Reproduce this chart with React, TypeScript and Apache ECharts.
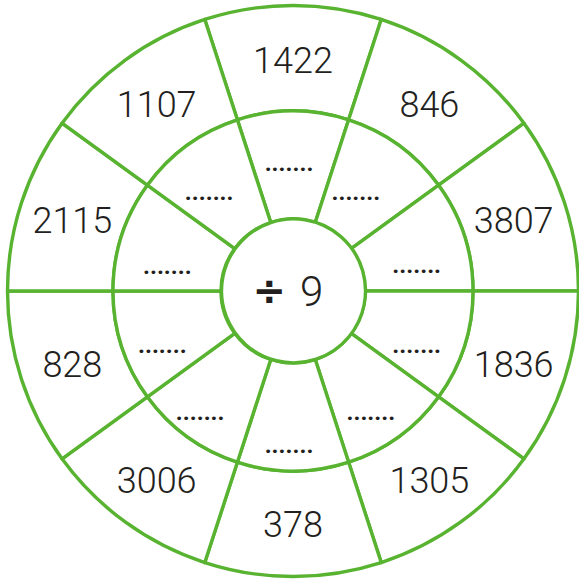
import React, { useEffect, useRef } from "react";
import * as echarts from "echarts";

// Outer ring numbers, clockwise starting from the top segment
const outerNumbers = ["1422", "846", "3807", "1836", "1305", "378", "3006", "828", "2115", "1107"];
// Middle ring placeholders (answers to fill in)
const answerBlanks = [".......", ".......", ".......", ".......", ".......", ".......", ".......", ".......", ".......", "......."];
// Center operation
const operationSymbol = "÷";
const divisor = 9;

// style: hand-placed nudges of the blank labels, as in the worksheet
const blankNudges: [number, number][] = [
  [-4, 1], [-13, 5], [1, 14], [1, 14], [2, 17], [-4, 25], [-17, 17], [-8, 14], [-3, 15], [-8, 5],
];

const GREEN = "#58b330";
const INK = "#231f20";

export default function App() {
  const ref = useRef<HTMLDivElement>(null);

  useEffect(() => {
    document.body.style.margin = "0";
    if (!ref.current) return;
    const chart = echarts.init(ref.current, null, { renderer: "svg" });
    const center: [number, number] = [293, 291];
    const common = {
      type: "pie" as const,
      center,
      startAngle: 108,
      clockwise: true,
      silent: true,
      avoidLabelOverlap: false,
      labelLine: { show: false },
      emphasis: { disabled: true },
    };
    const frame = { color: "#ffffff", borderColor: GREEN, borderWidth: 3.4 };
    const ghost = { color: "rgba(0,0,0,0)", borderWidth: 0 };
    chart.setOption({
      animation: false,
      backgroundColor: "#ffffff",
      series: [
        {
          ...common,
          name: "outerFrame",
          radius: [180, 285.5],
          itemStyle: frame,
          label: { show: false },
          data: outerNumbers.map((n) => ({ name: n, value: 1 })),
        },
        {
          ...common,
          name: "middleFrame",
          radius: [72, 180],
          itemStyle: frame,
          label: { show: false },
          data: answerBlanks.map((b, i) => ({ name: "blank" + i, value: 1 })),
        },
        {
          ...common,
          name: "center",
          radius: [0, 72],
          itemStyle: frame,
          data: [{ name: operationSymbol + " " + divisor, value: 1 }],
          label: {
            show: true,
            position: "center",
            offset: [-5, 0],
            formatter: "{op|" + operationSymbol + "}{num|" + divisor + "}",
            rich: {
              op: { color: INK, fontFamily: "DejaVu Sans", fontWeight: 700, fontSize: 40, padding: [0, 14, 0, 0] },
              num: { color: INK, fontFamily: "Roboto", fontWeight: 300, fontSize: 42 },
            },
          },
        },
        {
          ...common,
          name: "outerLabels",
          radius: [172, 286],
          itemStyle: ghost,
          z: 5,
          data: outerNumbers.map((n) => ({ name: n, value: 1 })),
          label: {
            show: true,
            position: "inside",
            rotate: 0,
            offset: [0, 2],
            formatter: "{b}",
            color: INK,
            fontFamily: "Roboto",
            fontWeight: 300,
            fontSize: 36,
          },
        },
        {
          ...common,
          name: "blankLabels",
          radius: [72, 180],
          itemStyle: ghost,
          z: 5,
          data: answerBlanks.map((b, i) => ({
            name: "blank" + i,
            value: 1,
            label: { formatter: b, offset: blankNudges[i] },
          })),
          label: {
            show: true,
            position: "inside",
            rotate: 0,
            color: INK,
            fontFamily: "Roboto",
            fontWeight: 700,
            fontSize: 24,
          },
        },
      ],
    });
    return () => chart.dispose();
  }, []);

  return <div ref={ref} style={{ width: 579, height: 585 }} />;
}
